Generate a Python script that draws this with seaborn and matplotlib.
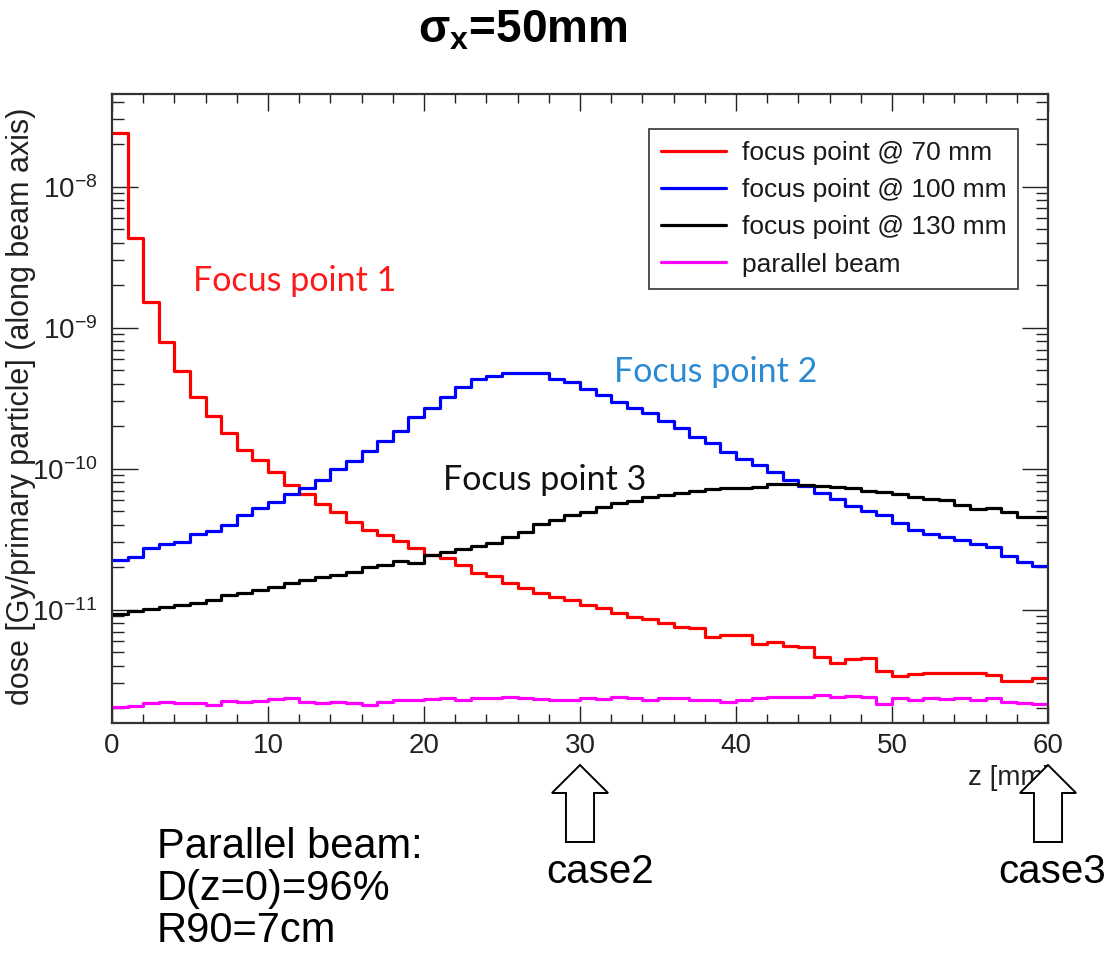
import numpy as np
import pandas as pd
import matplotlib
matplotlib.use("Agg")
import matplotlib.pyplot as plt
import seaborn as sns
from matplotlib.lines import Line2D
from matplotlib.patches import Polygon
from matplotlib import transforms
from matplotlib.ticker import LogLocator, MultipleLocator, NullFormatter

# ---------------- data ----------------
z_edges = list(range(61))  # 1 mm bins, 0..60 mm
series_labels = ["focus point @ 70 mm", "focus point @ 100 mm",
                 "focus point @ 130 mm", "parallel beam"]
series_colors = ["#ff0000", "#0000ff", "#000000", "#ff00ff"]

focus70 = [2.42e-8, 4.3e-9, 1.51e-9, 7.87e-10, 4.93e-10, 3.24e-10, 2.37e-10, 1.78e-10,
           1.36e-10, 1.15e-10, 9.4e-11, 7.66e-11, 6.6e-11, 5.6e-11, 4.96e-11, 4.2e-11,
           3.67e-11, 3.39e-11, 3.06e-11, 2.72e-11, 2.44e-11, 2.31e-11, 2.07e-11, 1.81e-11,
           1.73e-11, 1.54e-11, 1.42e-11, 1.31e-11, 1.24e-11, 1.17e-11, 1.08e-11, 1.02e-11,
           9.4e-12, 8.9e-12, 8.55e-12, 8.09e-12, 7.58e-12, 7.4e-12, 6.45e-12, 6.6e-12,
           6.6e-12, 5.75e-12, 5.93e-12, 5.53e-12, 5.41e-12, 4.59e-12, 4.2e-12, 4.44e-12,
           4.52e-12, 3.69e-12, 3.39e-12, 3.5e-12, 3.57e-12, 3.57e-12, 3.57e-12, 3.57e-12,
           3.44e-12, 3.12e-12, 3.12e-12, 3.26e-12]

focus100 = [2.25e-11, 2.38e-11, 2.72e-11, 2.91e-11, 3.04e-11, 3.44e-11, 3.63e-11, 3.98e-11,
            4.7e-11, 5.24e-11, 5.84e-11, 6.6e-11, 7.33e-11, 8.3e-11, 9.9e-11, 1.13e-10,
            1.34e-10, 1.58e-10, 1.86e-10, 2.34e-10, 2.68e-10, 3.24e-10, 3.78e-10, 4.32e-10,
            4.54e-10, 4.74e-10, 4.79e-10, 4.79e-10, 4.3e-10, 4.14e-10, 3.66e-10, 3.33e-10,
            2.99e-10, 2.68e-10, 2.47e-10, 2.19e-10, 1.93e-10, 1.69e-10, 1.51e-10, 1.32e-10,
            1.17e-10, 1.07e-10, 9.4e-11, 8.3e-11, 7.55e-11, 6.76e-11, 6.07e-11, 5.44e-11,
            5.01e-11, 4.7e-11, 4.1e-11, 3.67e-11, 3.44e-11, 3.3e-11, 3.12e-11, 2.92e-11,
            2.8e-11, 2.4e-11, 2.19e-11, 2.04e-11]

focus130 = [9.27e-12, 9.84e-12, 1.01e-11, 1.05e-11, 1.08e-11, 1.12e-11, 1.17e-11, 1.27e-11,
            1.31e-11, 1.38e-11, 1.46e-11, 1.54e-11, 1.62e-11, 1.71e-11, 1.76e-11, 1.86e-11,
            2.0e-11, 2.07e-11, 2.2e-11, 2.13e-11, 2.44e-11, 2.58e-11, 2.68e-11, 2.83e-11,
            2.99e-11, 3.3e-11, 3.57e-11, 4.06e-11, 4.33e-11, 4.7e-11, 4.96e-11, 5.32e-11,
            5.69e-11, 5.93e-11, 6.33e-11, 6.5e-11, 6.68e-11, 6.98e-11, 7.15e-11, 7.26e-11,
            7.26e-11, 7.38e-11, 7.79e-11, 7.79e-11, 7.66e-11, 7.55e-11, 7.38e-11, 7.26e-11,
            6.98e-11, 6.87e-11, 6.6e-11, 6.33e-11, 6.07e-11, 6.0e-11, 5.53e-11, 5.15e-11,
            5.28e-11, 4.96e-11, 4.57e-11, 4.57e-11]

parallel = [2.03e-12, 2.07e-12, 2.17e-12, 2.23e-12, 2.18e-12, 2.17e-12, 2.11e-12, 2.26e-12,
            2.20e-12, 2.26e-12, 2.31e-12, 2.35e-12, 2.23e-12, 2.17e-12, 2.20e-12, 2.19e-12,
            2.11e-12, 2.23e-12, 2.29e-12, 2.29e-12, 2.31e-12, 2.35e-12, 2.29e-12, 2.35e-12,
            2.35e-12, 2.42e-12, 2.35e-12, 2.31e-12, 2.29e-12, 2.29e-12, 2.35e-12, 2.31e-12,
            2.42e-12, 2.35e-12, 2.29e-12, 2.35e-12, 2.35e-12, 2.29e-12, 2.29e-12, 2.23e-12,
            2.29e-12, 2.35e-12, 2.42e-12, 2.42e-12, 2.42e-12, 2.48e-12, 2.39e-12, 2.44e-12,
            2.42e-12, 2.14e-12, 2.35e-12, 2.29e-12, 2.35e-12, 2.31e-12, 2.35e-12, 2.29e-12,
            2.35e-12, 2.23e-12, 2.19e-12, 2.14e-12]

# ---------------- style ----------------
sns.set_theme(style="white")
plt.rcParams["font.family"] = ["Liberation Sans", "DejaVu Sans"]
plt.rcParams["text.color"] = "black"
plt.rcParams["mathtext.fontset"] = "custom"
plt.rcParams["mathtext.rm"] = "Liberation Sans"
plt.rcParams["mathtext.it"] = "Liberation Sans:italic"
plt.rcParams["mathtext.bf"] = "Liberation Sans:bold"
plt.rcParams["mathtext.sf"] = "Liberation Sans"

rows = []
for name, vals in zip(series_labels, [focus70, focus100, focus130, parallel]):
    ext = list(vals) + [vals[-1]]
    for zz, v in zip(z_edges, ext):
        rows.append({"z": zz, "dose": v, "series": name})
df = pd.DataFrame(rows)

W, H = 1109, 974
fig = plt.figure(figsize=(W / 100, H / 100), dpi=100)
fig.patch.set_facecolor("white")
ax = fig.add_axes([112 / W, 1 - 723 / H, 936 / W, 629 / H])

sns.lineplot(data=df, x="z", y="dose", hue="series", hue_order=series_labels,
             palette=series_colors, drawstyle="steps-post", linewidth=2.3,
             estimator=None, sort=False, legend=False, ax=ax)

ax.set_yscale("log")
ax.set_xlim(0, 60)
ax.set_ylim(1.572e-12, 4.54e-8)

ax.xaxis.set_major_locator(MultipleLocator(10))
ax.xaxis.set_minor_locator(MultipleLocator(2))
ax.yaxis.set_major_locator(LogLocator(base=10))
ax.yaxis.set_minor_locator(LogLocator(base=10, subs=np.arange(2, 10)))
ax.yaxis.set_minor_formatter(NullFormatter())

ax.tick_params(which="both", direction="in", top=True, right=True,
               bottom=True, left=True, colors="#222222", width=1.0)
ax.tick_params(axis="y", which="major", length=19, pad=10.5, labelsize=20)
ax.tick_params(axis="y", which="minor", length=8.5)
ax.tick_params(axis="x", which="major", length=12, pad=7, labelsize=20)
ax.tick_params(axis="x", which="minor", length=6.5)
for s in ax.spines.values():
    s.set_color("#333333")
    s.set_linewidth(1.6)

ax.set_xlabel("z [mm]", fontsize=20, color="#222222")
ax.xaxis.label.set_ha("right")
ax.xaxis.label.set_va("center")
ax.xaxis.set_label_coords(1.004, -0.087)

ax.set_ylabel("dose [Gy/primary particle] (along beam axis)", fontsize=22, color="#222222")
ax.yaxis.label.set_va("center")
ax.yaxis.set_label_coords(-0.0975, 0.504)

handles = [Line2D([], [], color=c, lw=2.3) for c in series_colors]
leg = ax.legend(handles, series_labels, loc="upper right", bbox_to_anchor=(0.968, 0.944),
                borderaxespad=0, frameon=True, fancybox=False, edgecolor="black",
                fontsize=19, handlelength=2.45, handletextpad=0.6, labelspacing=0.5,
                borderpad=0.45)
leg.get_frame().set_linewidth(1.2)
for t in leg.get_texts():
    t.set_color("#1a1a1a")

ann_font = ["Lato", "DejaVu Sans"]
ax.text(5.2, 2.14e-9, "Focus point 1", color="#ff1a1a", fontsize=24.5, family=ann_font,
        ha="left", va="center")
ax.text(32.2, 4.85e-10, "Focus point 2", color="#2a8ad4", fontsize=24.5, family=ann_font,
        ha="left", va="center")
ax.text(21.2, 8.3e-11, "Focus point 3", color="#111111", fontsize=24.5, family=ann_font,
        ha="left", va="center")

# title
fig.text(523 / W, 1 - 43 / H, r"$\mathbf{\sigma_x}$=50mm", fontsize=33, fontweight="bold",
         color="black", ha="center", va="baseline")

# bottom notes
for txt, yb in [("Parallel beam:", 858), ("D(z=0)=96%", 900), ("R90=7cm", 942)]:
    fig.text(157 / W, 1 - yb / H, txt, fontsize=30, color="black", ha="left", va="baseline")
fig.text(600 / W, 1 - 883 / H, "case2", fontsize=29, color="black", ha="center", va="baseline")
fig.text(1106 / W, 1 - 883 / H, "case3", fontsize=29, color="black", ha="right", va="baseline")

# hollow block arrows under z = 30 and z = 60
blend = transforms.blended_transform_factory(ax.transData, fig.transFigure)
hw, sw = 1.8, 0.9  # half widths in mm
for zc in (30, 60):
    pts_px = [(zc, 765), (zc + hw, 793), (zc + sw, 793), (zc + sw, 842),
              (zc - sw, 842), (zc - sw, 793), (zc - hw, 793)]
    pts = [(x, 1 - y / H) for x, y in pts_px]
    poly = Polygon(pts, closed=True, facecolor="white", edgecolor="black",
                   linewidth=1.4, transform=blend, clip_on=False, zorder=10)
    fig.add_artist(poly)

fig.savefig("out.png", dpi=100, facecolor="white")
